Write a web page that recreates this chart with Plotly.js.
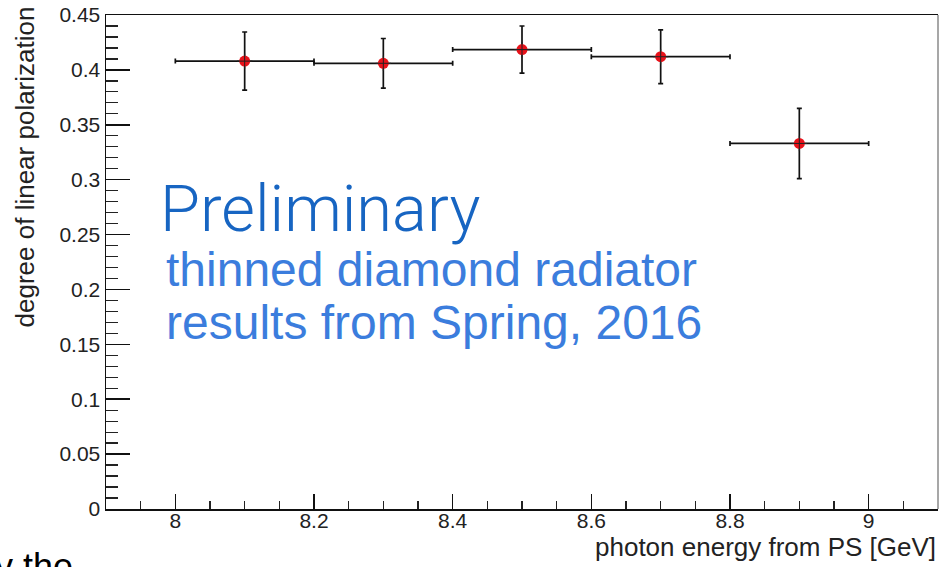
<!DOCTYPE html>
<html>
<head>
<meta charset="utf-8">
<script src="https://cdn.plot.ly/plotly-3.0.1.min.js"></script>
<style>
  html, body { margin: 0; padding: 0; background: #ffffff; }
  #chart { width: 941px; height: 567px; }
</style>
</head>
<body>
<div id="chart"></div>
<script>
// Data
const energy = [8.1, 8.3, 8.5, 8.7, 8.9];            // photon energy bin centres [GeV]
const binHalfWidth = [0.1, 0.1, 0.1, 0.1, 0.1];     // horizontal error (half bin width)
const polarization = [0.408, 0.406, 0.4185, 0.412, 0.333];
const polarizationErr = [0.0265, 0.0226, 0.0215, 0.0245, 0.032];

const xTickVals = [8, 8.2, 8.4, 8.6, 8.8, 9];
const xTickText = ['8', '8.2', '8.4', '8.6', '8.8', '9'];
const yTickVals = [0, 0.05, 0.1, 0.15, 0.2, 0.25, 0.3, 0.35, 0.4, 0.45];
const yTickText = ['0', '0.05', '0.1', '0.15', '0.2', '0.25', '0.3', '0.35', '0.4', '0.45'];

const FONT = 'Liberation Sans, Arial, Helvetica, sans-serif';

const traces = [
  {
    type: 'scatter',
    mode: 'markers',
    x: energy,
    y: polarization,
    error_x: { type: 'data', array: binHalfWidth, visible: true, color: '#111111', thickness: 1.7, width: 2.5 },
    error_y: { type: 'data', array: polarizationErr, visible: true, color: '#111111', thickness: 1.7, width: 2.5 },
    marker: { color: '#e8121a', size: 11, line: { width: 0 } },
    hoverinfo: 'skip',
    showlegend: false
  },
  {
    type: 'scatter',
    mode: 'markers',
    x: energy,
    y: polarization,
    marker: { symbol: 'cross-thin-open', color: '#222222', size: 11, line: { width: 1, color: '#222222' } },
    hoverinfo: 'skip',
    showlegend: false
  }
];

const layout = {
  width: 941,
  height: 567,
  margin: { l: 106, r: 3, t: 15, b: 58 },
  paper_bgcolor: '#ffffff',
  plot_bgcolor: '#ffffff',
  font: { family: FONT, color: '#222222' },
  showlegend: false,
  xaxis: {
    range: [7.9, 9.1],
    tickmode: 'array',
    tickvals: xTickVals,
    ticktext: xTickText,
    ticks: 'inside',
    ticklen: 15,
    tickwidth: 1.5,
    tickcolor: '#111111',
    ticklabelstandoff: -8,
    minor: { dtick: 0.05, tick0: 8, ticks: 'inside', ticklen: 8, tickwidth: 1.3, tickcolor: '#222222', showgrid: false },
    showgrid: false,
    zeroline: false,
    showline: true,
    linecolor: '#111111',
    linewidth: 1.5,
    mirror: true,
    tickfont: { family: FONT, size: 21, color: '#222222' },
    fixedrange: true
  },
  yaxis: {
    range: [0, 0.45],
    tickmode: 'array',
    tickvals: yTickVals,
    ticktext: yTickText,
    ticks: 'inside',
    ticklen: 24,
    tickwidth: 1.5,
    tickcolor: '#111111',
    minor: { dtick: 0.01, tick0: 0, ticks: 'inside', ticklen: 12, tickwidth: 1.3, tickcolor: '#222222', showgrid: false },
    showgrid: false,
    zeroline: false,
    showline: true,
    linecolor: '#111111',
    linewidth: 1.5,
    tickfont: { family: FONT, size: 21, color: '#222222' },
    fixedrange: true
  },
  shapes: [
    { type: 'line', xref: 'paper', yref: 'paper', x0: 1, x1: 1, y0: 0, y1: 1, line: { color: '#8a8a8a', width: 1.5 } }
  ],
  annotations: [
    {
      text: 'Preliminary', xref: 'x', yref: 'y', x: 7.975, y: 0.2733,
      xanchor: 'left', yanchor: 'middle', showarrow: false,
      font: { family: 'Roboto, sans-serif', weight: 300, size: 65, color: '#1765c2' }
    },
    {
      text: 'thinned diamond radiator', xref: 'x', yref: 'y', x: 7.984, y: 0.2185,
      xanchor: 'left', yanchor: 'middle', showarrow: false,
      font: { family: FONT, size: 48, color: '#3b7ddd' }
    },
    {
      text: 'results from Spring, 2016', xref: 'x', yref: 'y', x: 7.984, y: 0.1700,
      xanchor: 'left', yanchor: 'middle', showarrow: false,
      font: { family: FONT, size: 48, color: '#3b7ddd' }
    },
    {
      text: 'degree of linear polarization', xref: 'paper', yref: 'paper',
      x: -0.0962, y: 1.0223, xanchor: 'center', yanchor: 'top', textangle: -90, showarrow: false,
      font: { family: FONT, size: 26, color: '#222222' }
    },
    {
      text: 'photon energy from PS [GeV]', xref: 'paper', yref: 'paper',
      x: 1, y: -0.0770, xanchor: 'right', yanchor: 'middle', showarrow: false,
      font: { family: FONT, size: 26, color: '#222222' }
    },
    {
      text: 'by the', xref: 'paper', yref: 'paper',
      x: -0.0373, y: -0.1174, xanchor: 'right', yanchor: 'middle', showarrow: false,
      font: { family: FONT, size: 36, color: '#000000' }
    }
  ]
};

Plotly.newPlot('chart', traces, layout, { displayModeBar: false, staticPlot: true });
</script>
</body>
</html>
